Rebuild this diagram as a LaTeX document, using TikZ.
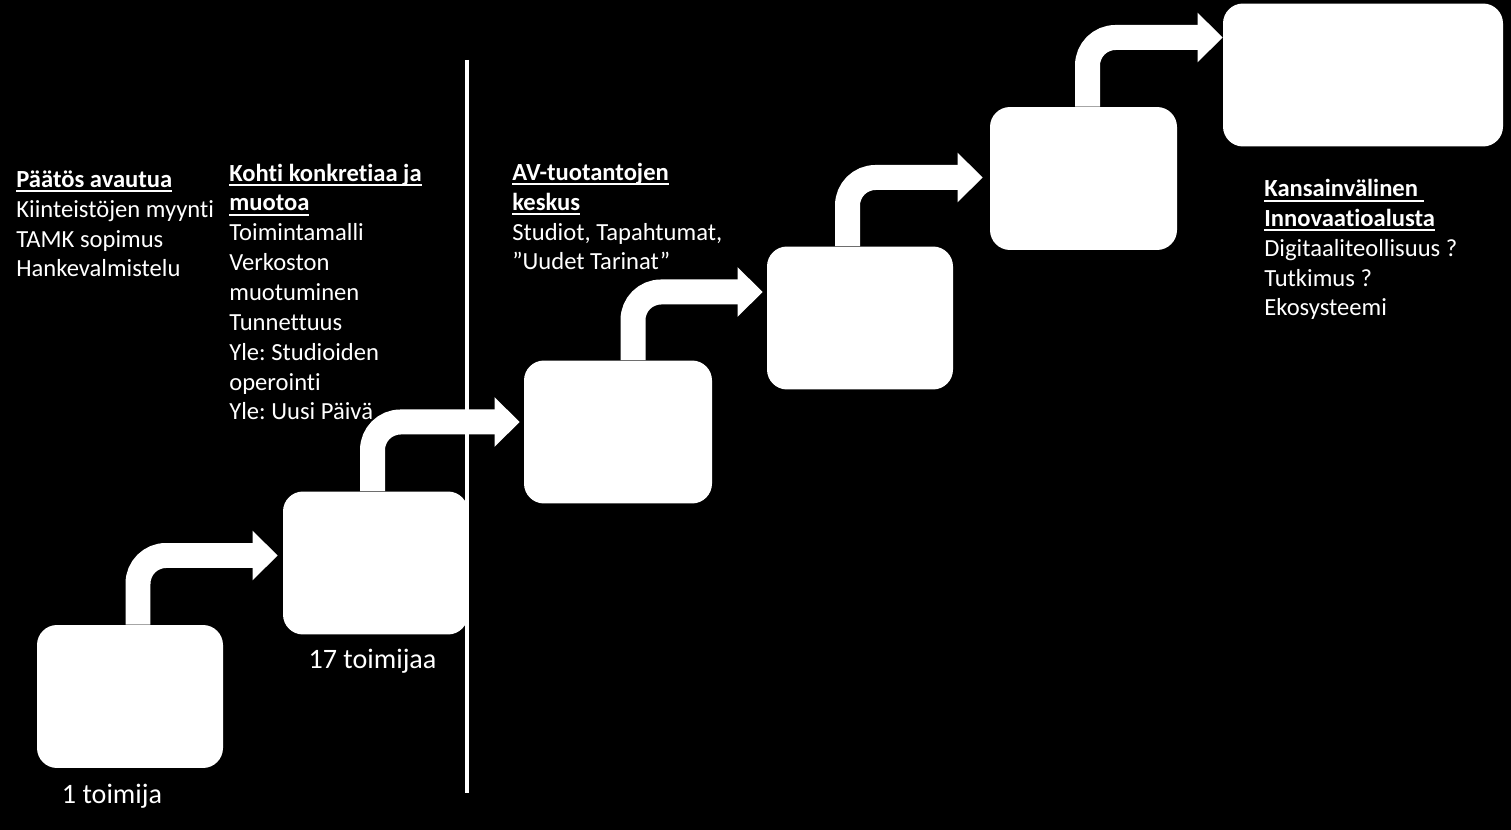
\documentclass[tikz,border=0pt]{standalone}
\usepackage{fontspec}
\setmainfont{Carlito}[Ligatures={NoCommon}]
\usetikzlibrary{arrows.meta}
\frenchspacing

% underlined bold heading
\newlength\ulwidth
\newcommand{\ulhead}[1]{\settowidth{\ulwidth}{\textbf{#1}}%
    \rlap{\rule[-0.1cm]{\ulwidth}{1.1pt}}\textbf{#1}}

\begin{document}
\begin{tikzpicture}[x=0.02cm, y=-0.02cm,
    stage/.style={fill=white, rounded corners=0.4cm, minimum height=2.86cm, inner sep=0pt},
    flow/.style={white, line width=0.5cm, rounded corners=0.56cm,
        -{Triangle[length=0.5cm, width=0.96cm]}},
    divider/.style={white, line width=0.08cm},
    note/.style={white, align=left, inner sep=0pt, anchor=base west,
        font=\fontsize{14pt}{17pt}\selectfont},
    count/.style={white, inner sep=0pt, anchor=base, font=\fontsize{16pt}{19pt}\selectfont}
]

% background
\fill[black] (0,0) rectangle (1511,830);
\useasboundingbox (0,0) rectangle (1511,830);

% =========================
% Stages
% =========================
\foreach \name/\cx/\cy/\w in {A/130/696.5/186, B/375.5/563/185, C/618/432/188,
        D/860/318/186, E/1083.5/178.5/187, F/1363/75/280}
    \node[stage, minimum width=\w*0.02cm] (\name) at (\cx,\cy) {};

% =========================
% Step arrows
% =========================
\foreach \from/\to/\dx/\sx/\sy in {A/B/8/-5/-7.5, B/C/-3/-4/-10, C/D/15/-4/-26,
        D/E/-12.5/-7/-1, E/F/4/0/-37.5}
    \draw[flow] ([xshift=\dx*0.02cm]\from.north) |- ([shift={(\sx,\sy)}]\to.west);

% divider
\draw[divider] (467,60) -- (467,793);

% =========================
% Texts (placed by the baseline of their last line)
% =========================
\node[note] (phase1) at (16,277) {\ulhead{Päätös avautua}\\
    Kiinteistöjen myynti\\TAMK sopimus\\Hankevalmistelu};
\node[note] (phase2) at (229,420) {\ulhead{Kohti konkretiaa ja}\\
    \ulhead{muotoa}\\Toimintamalli\\Verkoston\\muotuminen\\Tunnettuus\\
    Yle: Studioiden\\operointi\\Yle: Uusi Päivä};
\node[note] (phase3) at (512,270) {\ulhead{AV-tuotantojen}\\
    \ulhead{keskus}\\Studiot, Tapahtumat,\\”Uudet Tarinat”};
\node[note] (phase4) at (1264,316) {\ulhead{Kansainvälinen\ }\\
    \ulhead{Innovaatioalusta}\\Digitaaliteollisuus ?\\Tutkimus ?\\Ekosysteemi};

\node[count] (countA) at (112,803) {1 toimija};
\node[count] (countB) at (372.5,668) {17 toimijaa};

\end{tikzpicture}
\end{document}
